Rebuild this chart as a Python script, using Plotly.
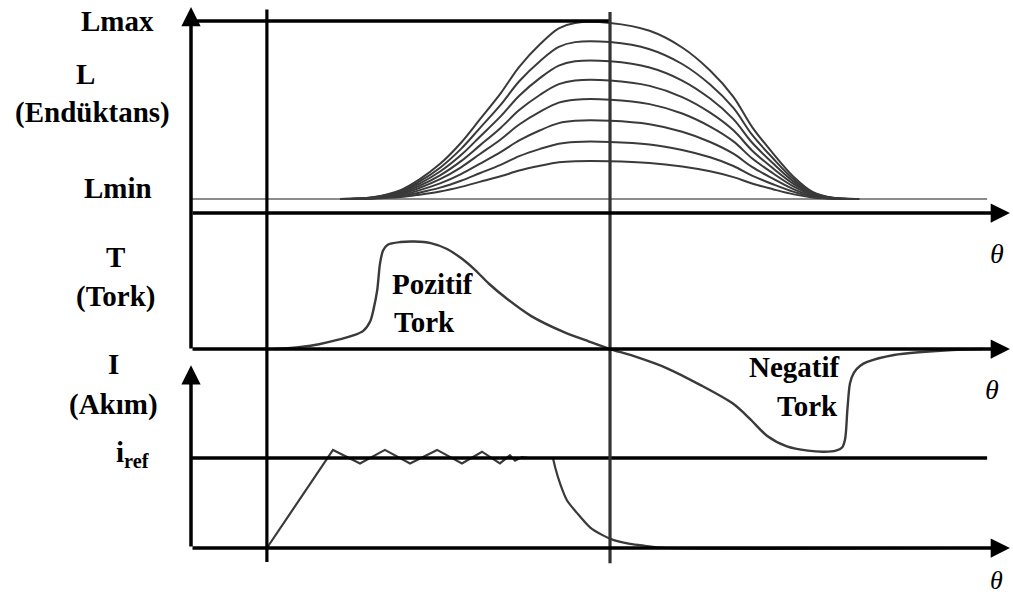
import plotly.graph_objects as go

# ---- inductance profiles (electrical degrees vs. inductance units) ----
THETA_L = [64, 78, 90, 98, 107, 116, 124, 133, 141, 150, 158, 165, 180,
           197, 211, 223, 233, 241, 250, 259, 267, 276, 287]
L_MIN = 7.3
L_MAX = 100
L_PROFILES = [
    [7.3, 8.2, 11.9, 17.4, 25.6, 36.6, 48.6, 62.3, 76.1, 88.0, 96.2, 99.0, 99.0,
     94.9, 86.2, 74.2, 60.5, 44.9, 31.1, 18.7, 11.0, 7.9, 7.3],
    [7.3, 8.1, 11.4, 16.3, 23.6, 33.4, 44.1, 56.3, 68.6, 79.2, 86.5, 89.0, 89.0,
     85.3, 77.6, 66.9, 54.7, 40.8, 28.5, 17.4, 10.6, 7.8, 7.3],
    [7.3, 8.0, 10.9, 15.2, 21.6, 30.2, 39.6, 50.3, 61.1, 70.4, 76.8, 79.0, 79.0,
     75.8, 69.0, 59.6, 48.9, 36.7, 25.9, 16.2, 10.2, 7.7, 7.3],
    [7.3, 7.9, 10.4, 14.1, 19.6, 27.0, 35.1, 44.3, 53.6, 61.6, 67.1, 69.0, 69.0,
     66.2, 60.4, 52.3, 43.1, 32.6, 23.3, 15.0, 9.8, 7.7, 7.3],
    [7.3, 7.8, 9.9, 13.0, 17.6, 23.8, 30.6, 38.3, 46.1, 52.8, 57.5, 59.0, 59.0,
     56.7, 51.8, 45.0, 37.3, 28.5, 20.7, 13.7, 9.4, 7.6, 7.3],
    [7.3, 7.7, 9.3, 11.8, 15.4, 20.3, 25.6, 31.7, 37.8, 43.1, 46.8, 48.0, 48.0,
     46.2, 42.3, 37.0, 30.9, 24.0, 17.9, 12.3, 8.9, 7.5, 7.3],
    [7.3, 7.6, 8.8, 10.6, 13.2, 16.8, 20.7, 25.1, 29.6, 33.4, 36.1, 37.0, 37.0,
     35.7, 32.8, 29.0, 24.5, 19.5, 15.0, 11.0, 8.5, 7.5, 7.3],
    [7.3, 7.5, 8.3, 9.5, 11.2, 13.6, 16.2, 19.1, 22.1, 24.6, 26.4, 27.0, 27.0,
     26.1, 24.2, 21.7, 18.7, 15.4, 12.4, 9.7, 8.1, 7.4, 7.3],
]

# ---- torque ----
THETA_T = [36, 47, 55, 62, 70, 74, 77, 78.5, 80, 81.2, 82.5, 84.5, 90, 96, 103,
           110, 116, 122, 128, 136, 146, 160, 171, 180, 190, 204.5, 218.7,
           232.8, 240, 247.4, 256, 265, 272, 277, 279.7, 281, 282, 283.1, 284.8,
           287.5, 290.5, 302, 314, 327, 340]
TORQUE = [0, 2, 4.5, 8, 13, 17, 26, 38, 55, 80, 92, 97.5, 100, 100.5, 99,
          93.5, 85, 74, 61, 46.5, 31, 16, 7, 0, -6.5, -18, -33.5,
          -51, -65, -81, -91, -95, -96, -95, -92, -84, -56, -32, -22,
          -15.7, -12.1, -5.6, -2.8, -0.9, 0]

# ---- phase current: hysteresis chopping, then decay after turn-off ----
THETA_CHOP = [32.6, 61, 72.6, 83.3, 94.1, 105.7, 116.4, 125, 132.7, 137,
              139.2, 142.2, 144.8, 155.5]
CURRENT_CHOP = [0, 10.9, 9.4, 10.9, 9.4, 10.9, 9.4, 10.7, 9.4, 10.3,
                9.7, 10.1, 10, 10]
THETA_TAIL = [155.5, 156.6, 158.5, 161.5, 165.8, 171.4, 177, 181.3, 188.6,
              195, 205, 329]
CURRENT_TAIL = [10, 8.8, 7.2, 5.3, 3.9, 2.3, 1.4, 0.9, 0.45, 0.25, 0, 0]
I_REF = 10

# ---- angular markers / axis extents ----
THETA_ON = 32.6      # phase turn-on
THETA_ALIGN = 180    # aligned position
THETA_END = 351.8    # arrow tip of the angle axes
THETA_REF_END = 342

CURVE_COLOR = "#3a3a3a"
SERIF = "Liberation Serif"

fig = go.Figure()

fig.add_trace(go.Scatter(x=[0, THETA_REF_END], y=[L_MIN, L_MIN], mode="lines",
                         line=dict(color="#666", width=1.6), yaxis="y"))
for prof in L_PROFILES:
    fig.add_trace(go.Scatter(x=THETA_L, y=prof, mode="lines",
                             line=dict(color=CURVE_COLOR, width=2, shape="spline",
                                       smoothing=1.0),
                             yaxis="y"))

fig.add_trace(go.Scatter(x=THETA_T, y=TORQUE, mode="lines",
                         line=dict(color=CURVE_COLOR, width=2.4, shape="spline",
                                   smoothing=0.8),
                         yaxis="y2"))

fig.add_trace(go.Scatter(x=THETA_CHOP, y=CURRENT_CHOP, mode="lines",
                         line=dict(color=CURVE_COLOR, width=2.2), yaxis="y3"))
fig.add_trace(go.Scatter(x=THETA_TAIL, y=CURRENT_TAIL, mode="lines",
                         line=dict(color=CURVE_COLOR, width=2.2, shape="spline",
                                   smoothing=0.8),
                         yaxis="y3"))

shapes = [
    # Lmax reference line
    dict(type="line", xref="x", yref="y", x0=0, x1=THETA_ALIGN, y0=L_MAX, y1=L_MAX,
         line=dict(color="black", width=3.5)),
    # i_ref reference line
    dict(type="line", xref="x", yref="y3", x0=0, x1=THETA_REF_END, y0=I_REF, y1=I_REF,
         line=dict(color="black", width=3.5)),
    # turn-on and aligned-position markers
    dict(type="line", xref="x", yref="paper", x0=THETA_ON, x1=THETA_ON,
         y0=0.0555, y1=0.984, line=dict(color="black", width=3.2)),
    dict(type="line", xref="x", yref="paper", x0=THETA_ALIGN, x1=THETA_ALIGN,
         y0=0.0535, y1=0.98, line=dict(color="#333", width=3.2)),
]

fig.update_layout(shapes=shapes)

# axes with arrowheads
for x, y, ax, ay, yref in [(0, 107.3, 0, -71.4, "y"),
                           (THETA_END, 0, 0, 0, "y"),
                           (THETA_END, 0, 0, 0, "y2"),
                           (0, 20.3, 0, 0, "y3"),
                           (THETA_END, 0, 0, 0, "y3")]:
    fig.add_annotation(x=x, y=y, ax=ax, ay=ay, xref="x", yref=yref,
                       axref="x", ayref=yref, text="", showarrow=True,
                       arrowhead=2, arrowsize=1.1, arrowwidth=3.5,
                       arrowcolor="black", standoff=0)


def add_label(text, x, y, yref, size=29, xanchor="center", italic=False):
    t = f"<i>{text}</i>" if italic else f"<b>{text}</b>"
    fig.add_annotation(text=t, x=x, y=y, xref="x", yref=yref, showarrow=False,
                       xanchor=xanchor, yanchor="middle",
                       font=dict(family=SERIF, size=size, color="black"))


# panel labels
add_label("Lmax", -31.4, 100, "y")
add_label("L", -45.5, 72.4, "y")
add_label("(Endüktans)", -42.5, 52.6, "y")
add_label("Lmin", -31.4, 13.0, "y")
add_label("T", -32.6, 86, "y2")
add_label("(Tork)", -32.2, 49.5, "y2")
add_label("I", -33.5, 20.4, "y3")
add_label("(Akım)", -33.5, 15.9, "y3")
add_label("i<sub>ref</sub>", -25.3, 10.4, "y3")
add_label("Pozitif", 85.5, 60.7, "y2", xanchor="left")
add_label("Tork", 86.3, 25.2, "y2", xanchor="left")
add_label("Negatif", 279.7, -16.8, "y2", xanchor="right")
add_label("Tork", 278.8, -53.3, "y2", xanchor="right")
# angle symbols
add_label("θ", 346.2, 89.7, "y2", size=28, italic=True)
add_label("θ", 344.1, -37.4, "y2", size=28, italic=True)
add_label("θ", 346.2, -3.6, "y3", size=26, italic=True)

hidden = dict(visible=False, showgrid=False, zeroline=False, fixedrange=True)

fig.update_layout(
    width=1013, height=595,
    margin=dict(l=0, r=0, t=0, b=0, pad=0),
    paper_bgcolor="white", plot_bgcolor="white",
    font=dict(family=SERIF, color="black"),
    showlegend=False,
    xaxis=dict(range=[-82.05, 353.12], **hidden),
    yaxis=dict(range=[-198.96, 110.94], domain=[0, 1], **hidden),
    yaxis2=dict(range=[-229.9, 326.2], overlaying="y", anchor="x", **hidden),
    yaxis3=dict(range=[-5.222, 60.889], overlaying="y", anchor="x", **hidden),
)

fig.write_html("out.html")
